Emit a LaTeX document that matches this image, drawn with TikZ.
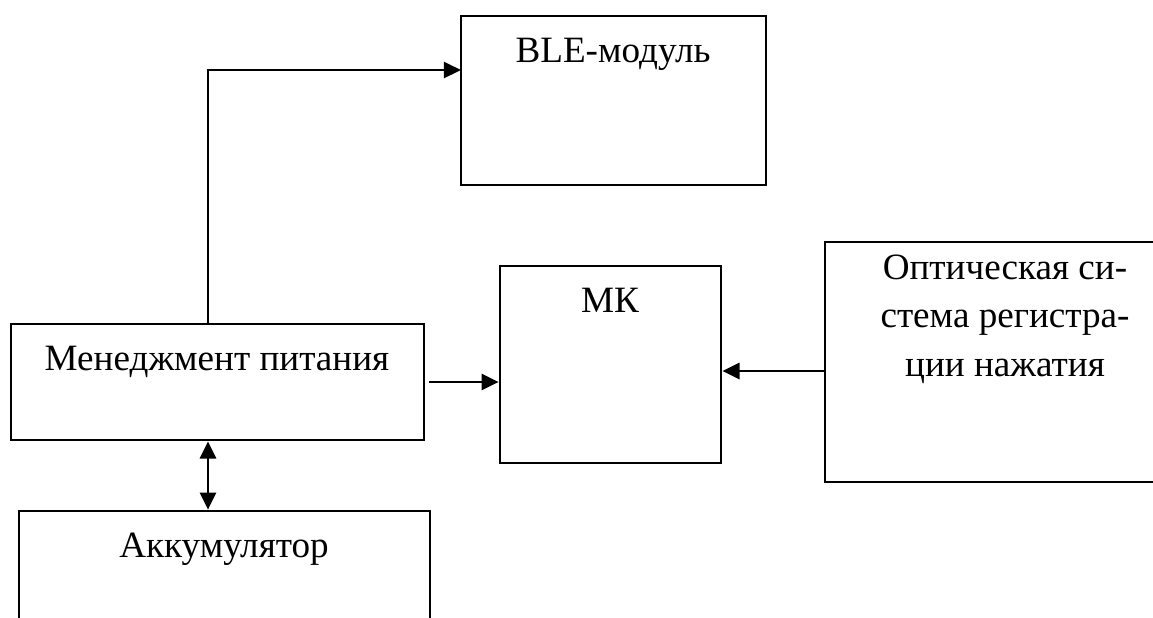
\documentclass[tikz,border=0pt]{standalone}
\usepackage{fontspec}
\setmainfont{Liberation Serif}
\usetikzlibrary{arrows.meta}
\newcommand{\pxu}{0.35pt}

\begin{document}
\begin{tikzpicture}[x=0.35pt, y=-0.35pt, inner sep=0pt]
		\tikzstyle{every node}=[align=center, font=\fontsize{13pt}{17pt}\selectfont]
		\tikzstyle{blk}=[draw, line width=0.95pt, rectangle]
		\tikzstyle{arr}=[line width=0.95pt, -{Triangle[length=6pt, width=5.6pt]}]
		\clip (0, 0) rectangle (1153, 617);
			\node[blk, minimum width=305*\pxu, minimum height=169*\pxu] (ble) at (613.5, 100.5) {};
			\node[blk, minimum width=221*\pxu, minimum height=197*\pxu] (mk) at (610.5, 364.5) {};
			\node[blk, minimum width=400*\pxu, minimum height=240*\pxu] (opt) at (1025, 362) {};
			\node[blk, minimum width=413*\pxu, minimum height=116*\pxu] (pwr) at (217.5, 382) {};
			\node[blk, minimum width=411*\pxu, minimum height=148*\pxu] (akk) at (224.5, 585) {};

			\node[anchor=base] (bletext) at (613, 62) {BLE-модуль};
			\node[anchor=base] (mktext) at (610, 312) {МК};
			\node[anchor=base] (pwrtext) at (217, 370) {Менеджмент питания};
			\node[anchor=base] (akktext) at (224, 557) {Аккумулятор};
			\node[anchor=north] (opttext) at (1005, 254) {Оптическая си-\\стема регистра-\\ции нажатия};

			\coordinate (pwrup) at (208, 324);
			\coordinate (blein) at (461, 70);
			\coordinate (optout) at (825, 371);

			\draw[arr] (pwrup) |- (blein);
			\draw[arr] ([xshift=4*\pxu]pwr.east) -- (pwr.east -| mk.west);
			\draw[arr] (optout) -- (optout -| mk.east);
			\draw[arr, {Triangle[length=6pt, width=5.6pt]}-{Triangle[length=6pt, width=5.6pt]}] (pwr.south -| pwrup) -- (akk.north -| pwrup);
\end{tikzpicture}
\end{document}
